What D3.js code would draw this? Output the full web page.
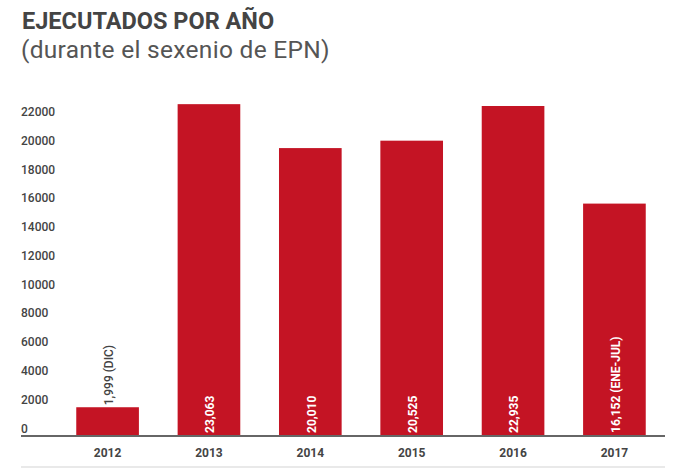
<!DOCTYPE html>
<html>
<head>
<meta charset="utf-8">
<script src="https://cdn.jsdelivr.net/npm/d3@7"></script>
<style>
  body { margin: 0; background: #fff; }
  svg { font-family: Roboto, "Noto Sans", sans-serif; }
</style>
</head>
<body>
<div id="chart"></div>
<script>
// data
const years = ["2012", "2013", "2014", "2015", "2016", "2017"];
const executed = [1999, 23063, 20010, 20525, 22935, 16152];
const valueLabels = ["1,999 (DIC)", "23,063", "20,010", "20,525", "22,935", "16,152 (ENE-JUL)"];
const yTicks = [0, 2000, 4000, 6000, 8000, 10000, 12000, 14000, 16000, 18000, 20000, 22000];

const width = 690, height = 476;
const baseY = 436;
const barColor = "#c41424";

let svg = d3.select("#chart")
  .append("svg")
  .attr("width", width)
  .attr("height", height);

// title
svg.append("text")
  .attr("x", 22).attr("y", 29)
  .style("font-size", "23.5px").style("font-weight", "bold")
  .style("fill", "#444")
  .text("EJECUTADOS POR AÑO");

svg.append("text")
  .attr("x", 21).attr("y", 58)
  .style("font-size", "24.5px")
  .style("letter-spacing", "0.3px")
  .style("fill", "#555")
  .text("(durante el sexenio de EPN)");

let x = d3.scaleBand()
  .domain(years)
  .range([57, 665])
  .paddingInner(0.382)
  .paddingOuter(0.19);

let y = d3.scaleLinear()
  .domain([0, 24000])
  .range([baseY, baseY - 24000 / 69.5]);

// Y axis (labels only, sitting just above their tick)
let yAxis = svg.append("g")
  .attr("transform", "translate(21,0)")
  .call(d3.axisLeft(y).tickValues(yTicks).tickSize(0).tickFormat(d3.format("d")));
yAxis.select(".domain").remove();
yAxis.selectAll("text")
  .attr("x", 0)
  .attr("dy", "-4")
  .attr("text-anchor", "start")
  .style("font-family", "Roboto, sans-serif")
  .style("font-size", "12px")
  .style("font-weight", "500")
  .style("fill", "#444");

// bars
svg.selectAll(".bar")
  .data(executed)
  .join("rect")
  .attr("class", "bar")
  .attr("x", (d, i) => x(years[i]))
  .attr("width", x.bandwidth())
  .attr("y", d => y(d))
  .attr("height", d => y(0) - y(d))
  .style("fill", barColor);

// baseline + x labels
let xAxis = svg.append("g")
  .attr("transform", "translate(0," + baseY + ")")
  .call(d3.axisBottom(x).tickSize(0).tickPadding(12));
xAxis.select(".domain").remove();
xAxis.selectAll("text")
  .style("font-family", "Roboto, sans-serif")
  .style("font-size", "12px")
  .style("font-weight", "bold")
  .style("fill", "#444");

svg.append("line")
  .attr("x1", 21).attr("x2", 665)
  .attr("y1", baseY).attr("y2", baseY)
  .style("stroke", "#666").style("stroke-width", 2);

svg.append("line")
  .attr("x1", 21).attr("x2", 665)
  .attr("y1", 467).attr("y2", 467)
  .style("stroke", "#e2e2e2").style("stroke-width", 1.5);

// value labels, rotated; the small 2012 bar gets its label above
svg.selectAll(".val")
  .data(executed)
  .join("text")
  .attr("class", "val")
  .attr("transform", (d, i) => {
    let cx = x(years[i]) + x.bandwidth() / 2 + 1;
    let ty = i === 0 ? y(d) - 2 : baseY - 3;
    return "translate(" + cx + "," + ty + ") rotate(-90)";
  })
  .attr("dy", "0.35em")
  .style("font-size", "12px")
  .style("font-weight", (d, i) => i === 0 ? "500" : "bold")
  .style("fill", (d, i) => i === 0 ? "#444" : "#fff")
  .text((d, i) => valueLabels[i]);
</script>
</body>
</html>
